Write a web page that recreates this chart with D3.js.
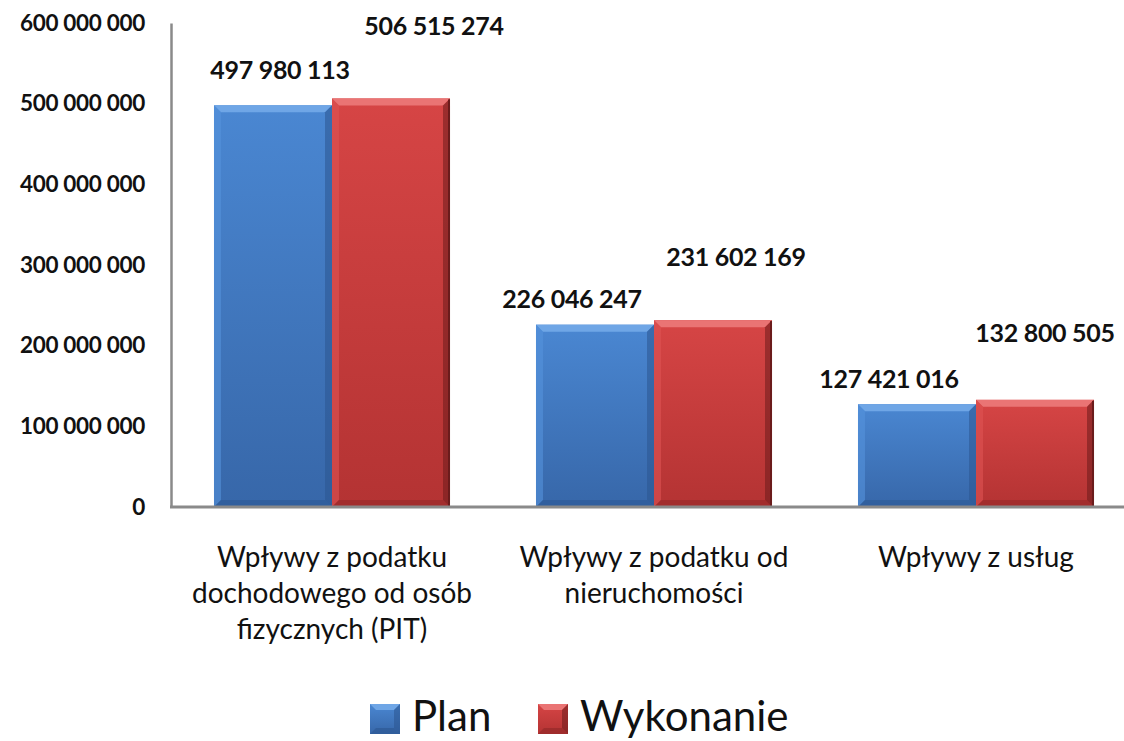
<!DOCTYPE html>
<html><head><meta charset="utf-8">
<script src="https://cdn.jsdelivr.net/npm/d3@7"></script>
<style>body{margin:0;background:#fff;}svg{display:block;}</style>
</head><body><svg id="c" width="1124" height="741"></svg>
<script>
const categories = [
  ["Wpływy z podatku","dochodowego od osób","fizycznych (PIT)"],
  ["Wpływy z podatku od","nieruchomości"],
  ["Wpływy z usług"]
];
const seriesNames = ["Plan","Wykonanie"];
const planValues = [497980113, 226046247, 127421016];
const wykonanieValues = [506515274, 231602169, 132800505];
const yTicks = [0,100000000,200000000,300000000,400000000,500000000,600000000];
// label offsets (px) relative to bar centre / bar top, as placed in the original
const labelOffsets = [
  [[7,-35],[43,-72]],
  [[-23,-25],[23,-63]],
  [[-28,-25],[10,-67]]
];
const colors = {
  Plan: {top:"#6fa6e6", left:"#5592dc", body:["#4a87d2","#3767a9"], right:"#2c5590", bottom:"#2d5a96"},
  Wykonanie: {top:"#ea7474", left:"#de5454", body:["#d64545","#b43333"], right:"#6b1c1c", bottom:"#962a2a"}
};

const svg = d3.select("#c");
const FONT = "Lato, 'Open Sans', sans-serif";
const fmt = v => d3.format(",")(v).replace(/,/g," ");

const catIdx = d3.range(categories.length);
const x0 = d3.scaleBand().domain(catIdx).range([171,1137]).paddingInner(0.267).paddingOuter(0.1335);
const x1 = d3.scaleBand().domain(seriesNames).range([0,x0.bandwidth()]);
const y = d3.scaleLinear().domain([0,600000000]).range([507,23]);

// gradients
const defs = svg.append("defs");
seriesNames.forEach(s=>{
  const g = defs.append("linearGradient").attr("id","g"+s).attr("x1",0).attr("y1",0).attr("x2",0).attr("y2",1);
  g.append("stop").attr("offset","0%").attr("stop-color",colors[s].body[0]);
  g.append("stop").attr("offset","100%").attr("stop-color",colors[s].body[1]);
});

// y axis
const yAxis = svg.append("g").attr("transform","translate(171,0)")
  .call(d3.axisLeft(y).tickValues(yTicks).tickFormat(fmt).tickSize(0).tickPadding(26));
yAxis.select(".domain").attr("stroke","#8a8a8a").attr("stroke-width",2.5);
yAxis.selectAll("text").attr("font-family",FONT).attr("font-weight","bold").attr("font-size",22.5).attr("letter-spacing","-0.3px").attr("fill","#111");

// bars
const data = catIdx.flatMap(i=>[
  {i, s:"Plan", v:planValues[i]},
  {i, s:"Wykonanie", v:wykonanieValues[i]}
]);
const b = 7;
const bars = svg.append("g").selectAll("g").data(data).join("g");
bars.each(function(d){
  const g = d3.select(this);
  const xl = x0(d.i)+x1(d.s), w = x1.bandwidth(), yt = y(d.v), yb = y(0), c = colors[d.s];
  g.append("rect").attr("x",xl).attr("y",yt).attr("width",w).attr("height",yb-yt).attr("fill",`url(#g${d.s})`);
  g.append("polygon").attr("points",[[xl,yt],[xl+w,yt],[xl+w-b,yt+b],[xl+b,yt+b]].join(" ")).attr("fill",c.top);
  g.append("polygon").attr("points",[[xl,yt],[xl+b,yt+b],[xl+b,yb-b],[xl,yb]].join(" ")).attr("fill",c.left).attr("opacity",0.6);
  g.append("polygon").attr("points",[[xl+w,yt],[xl+w,yb],[xl+w-b,yb-b],[xl+w-b,yt+b]].join(" ")).attr("fill",c.right).attr("opacity",0.55);
  g.append("polygon").attr("points",[[xl,yb],[xl+w,yb],[xl+w-b,yb-b],[xl+b,yb-b]].join(" ")).attr("fill",c.bottom).attr("opacity",0.6);
  if(d.s==="Wykonanie") g.append("rect").attr("x",xl+w-2).attr("y",yt+1).attr("width",2).attr("height",yb-yt-1).attr("fill",c.right);
});

// x axis
const xAxis = svg.append("g").attr("transform","translate(0,507)");
xAxis.append("line").attr("x1",170).attr("x2",1124).attr("y1",0).attr("y2",0).attr("stroke","#8a8a8a").attr("stroke-width",3);

// value labels
const vl = svg.append("g").attr("font-family",FONT).attr("font-weight","bold").attr("font-size",25).attr("letter-spacing","-0.3px").attr("fill","#111").attr("text-anchor","middle");
data.forEach(d=>{
  const si = seriesNames.indexOf(d.s);
  const off = labelOffsets[d.i][si];
  vl.append("text").attr("x",x0(d.i)+x1(d.s)+x1.bandwidth()/2+off[0]).attr("y",y(d.v)+off[1]).attr("dy","0.35em").text(fmt(d.v));
});

// category labels
const cl = svg.append("g").attr("font-family",FONT).attr("font-size",28).attr("fill","#111").attr("text-anchor","middle");
catIdx.forEach(i=>{
  const t = cl.append("text").attr("x",x0(i)+x0.bandwidth()/2).attr("y",557).attr("dy","0.35em");
  categories[i].forEach((line,k)=>t.append("tspan").attr("x",x0(i)+x0.bandwidth()/2).attr("dy",k===0?"0.35em":"36px").text(line));
});

// legend
const lg = svg.append("g").attr("font-family",FONT).attr("font-size",42).attr("fill","#111");
const legX = [370,538];
seriesNames.forEach((s,k)=>{
  const c = colors[s], lx = legX[k], ly = 704, sz = 30, bb = 6;
  lg.append("rect").attr("x",lx).attr("y",ly).attr("width",sz).attr("height",sz).attr("fill",`url(#g${s})`);
  lg.append("polygon").attr("points",[[lx,ly],[lx+sz,ly],[lx+sz-bb,ly+bb],[lx+bb,ly+bb]].join(" ")).attr("fill",c.top);
  lg.append("polygon").attr("points",[[lx+sz,ly],[lx+sz,ly+sz],[lx+sz-bb,ly+sz-bb],[lx+sz-bb,ly+bb]].join(" ")).attr("fill",c.right).attr("opacity",0.55);
  lg.append("polygon").attr("points",[[lx,ly+sz],[lx+sz,ly+sz],[lx+sz-bb,ly+sz-bb],[lx+bb,ly+sz-bb]].join(" ")).attr("fill",c.bottom).attr("opacity",0.7);
  lg.append("text").attr("x",lx+sz+12).attr("y",ly+sz-3).text(s);
});
</script></body></html>
